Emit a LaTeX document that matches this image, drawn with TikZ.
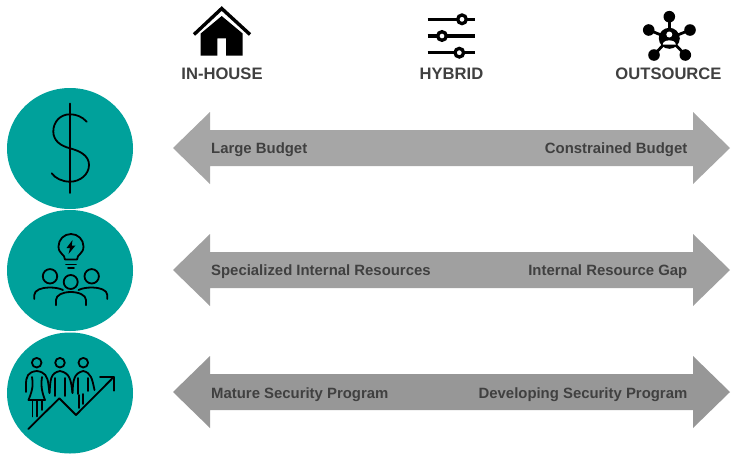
\documentclass[tikz,border=0pt]{standalone}
\usepackage{fontspec}
\setmainfont{Liberation Sans}
\definecolor{teal1}{HTML}{00A19B}
\definecolor{txt}{HTML}{404040}
\definecolor{ara}{HTML}{A6A6A6}
\definecolor{arb}{HTML}{A0A0A0}
\definecolor{arc}{HTML}{979797}
\tikzset{
  x=1pt,y=-1pt,
  disc/.style={fill=teal1,draw=none},
  head/.style={font=\fontsize{16.6}{18}\selectfont\bfseries,text=txt,anchor=base,inner sep=0pt},
  lab/.style={font=\fontsize{14.9}{17}\selectfont\bfseries,text=txt,inner sep=0pt},
  ico/.style={draw=black,line width=1.8pt,line cap=round,line join=round},
  icob/.style={draw=black,line width=3.3pt},
}
\newcommand{\dblarrow}[2]{\fill[#1] (173,#2) -- (210,#2-36) -- (210,#2-18) -- (693,#2-18) -- (693,#2-36) -- (730,#2) -- (693,#2+36) -- (693,#2+18) -- (210,#2+18) -- (210,#2+36) -- cycle;}
\begin{document}
\begin{tikzpicture}
\useasboundingbox (0,0) rectangle (750,464);
% house
\fill[black] (200.7,33.5) -- (221.7,16) -- (242.7,33.5) -- (242.7,55.5) -- (226,55.5) -- (226,38.3) -- (217.3,38.3) -- (217.3,55.5) -- (200.7,55.5) -- cycle;
\draw[black,line width=3.4pt] (194,34.5) -- (221.7,8.5) -- (250,34.5);
\node[head] (h1) at (222,79.5) {IN-HOUSE};
% sliders
\draw[icob] (427.7,19.3) -- (475.3,19.3);
\draw[icob] (427.7,36) -- (475.3,36);
\draw[icob] (427.7,52.7) -- (475.3,52.7);
\draw[icob,fill=white] (462,19.3) circle (4.3);
\draw[icob,fill=white] (442,36) circle (4.3);
\draw[icob,fill=white] (459.3,52.7) circle (4.3);
\node[head] (h2) at (451.5,79.5) {HYBRID};
% network
\foreach \p in {(669.3,16.7),(648.7,30),(690,30),(654,55),(685.3,55)}{
  \draw[black,line width=2.8pt] (669.3,38.3) -- \p;
  \fill[black] \p circle (5.8);
}
\fill[black] (669.3,38.3) circle (10.5);
\fill[white] (669.3,34.5) circle (3);
\fill[white] (662.8,44.5) .. controls (663,39) and (675.6,39) .. (675.8,44.5) -- cycle;
\node[head] (h3) at (668.5,79.5) {OUTSOURCE};
% arrows
\dblarrow{ara}{148}
\dblarrow{arb}{270}
\dblarrow{arc}{392}
\node[lab,anchor=base west] (l1) at (211,153) {Large Budget};
\node[lab,anchor=base east] (r1) at (687.5,153) {Constrained Budget};
\node[lab,anchor=base west] (l2) at (211,275) {Specialized Internal Resources};
\node[lab,anchor=base east] (r2) at (687.5,275) {Internal Resource Gap};
\node[lab,anchor=base west] (l3) at (211,398) {Mature Security Program};
\node[lab,anchor=base east] (r3) at (687.5,398) {Developing Security Program};
% discs
\fill[disc] (70,148.5) ellipse (63 and 60.5);
\fill[disc] (70,270.5) ellipse (63 and 60.5);
\fill[disc] (70,393) ellipse (63 and 60.5);
% dollar
\draw[ico] (70,103.5) -- (70,193);
\draw[ico] (86.7,121.7) .. controls (82,116.5) and (76,114.3) .. (70,114.3)
  .. controls (60,114.3) and (53.3,122) .. (53.3,131.5)
  .. controls (53.3,141) and (61,146) .. (70,148.3)
  .. controls (80,151) and (89,155.5) .. (89,165)
  .. controls (89,174.5) and (80,181.7) .. (70,181.7)
  .. controls (62,181.7) and (55,178) .. (51.7,173.3);
% bulb
\draw[ico] (65,259.5) .. controls (65,254) and (58.5,254) .. (58.5,246.5)
  .. controls (58.5,239.5) and (64,234) .. (71,234)
  .. controls (78,234) and (83.5,239.5) .. (83.5,246.5)
  .. controls (83.5,254) and (77,254) .. (77,259.5) -- cycle;
\draw[ico] (66,264.5) -- (76,264.5);
\draw[ico] (68,268.3) -- (74,268.3);
\fill[black] (72.5,240) -- (66.5,248) -- (70,248) -- (68.5,254) -- (75.5,245.5) -- (71.8,245.5) -- cycle;
% team
\draw[ico] (50,276.3) circle (7.2);
\draw[ico] (91.7,276.3) circle (7.2);
\draw[ico] (70.7,282) circle (7);
\draw[ico] (34.3,299) -- (34.3,295) .. controls (34.3,290) and (42,287.5) .. (49,287.5) .. controls (54,287.5) and (59,288) .. (63,290);
\draw[ico] (107.3,299) -- (107.3,295) .. controls (107.3,290) and (99.5,287.5) .. (92.5,287.5) .. controls (87.5,287.5) and (82.5,288) .. (78.5,290);
\draw[ico] (56,305.3) -- (56,300) .. controls (56,295) and (63,292) .. (70.7,292) .. controls (78.5,292) and (86,295) .. (86,300) -- (86,305.3);
% people
\draw[ico] (36.7,362.7) circle (4.8);
\draw[ico] (60,362.7) circle (4.8);
\draw[ico] (83.3,362.7) circle (4.8);
\draw[ico] (26,392) -- (26,385) .. controls (26,376) and (28,372) .. (36.7,371) .. controls (45,372) and (47.5,376) .. (48.5,385) -- (49.5,393);
\draw[ico] (32,377) .. controls (33,383) and (33.5,388) .. (28.5,400) -- (45,400) .. controls (41,390) and (41,383) .. (42,377);
\draw[ico] (32.5,400) -- (32.5,416.5);
\draw[ico] (37.3,400) -- (37.3,416.5);
\draw[ico] (41.7,400) -- (41.7,410);
\draw[ico] (49.5,393) .. controls (50.5,380) and (50,373) .. (60,371) .. controls (70,373) and (71,380) .. (72.5,393);
\draw[ico] (55,378) -- (55,396);
\draw[ico] (65,378) -- (65,396);
\draw[ico] (72.5,393) .. controls (73,380) and (74,373) .. (83.3,371) .. controls (91,373) and (92,378) .. (94.5,390);
\draw[ico] (78,378) -- (78,394);
\draw[ico] (88,378) -- (88,391);
\draw[ico] (83,394) -- (83,404);
\draw[ico] (79,395) -- (79,408);
\draw[ico] (28.3,429) -- (59.3,398.3) -- (76,415) -- (113.7,377);
\draw[ico] (100,377) -- (114,377) -- (114,390.7);
\end{tikzpicture}
\end{document}
